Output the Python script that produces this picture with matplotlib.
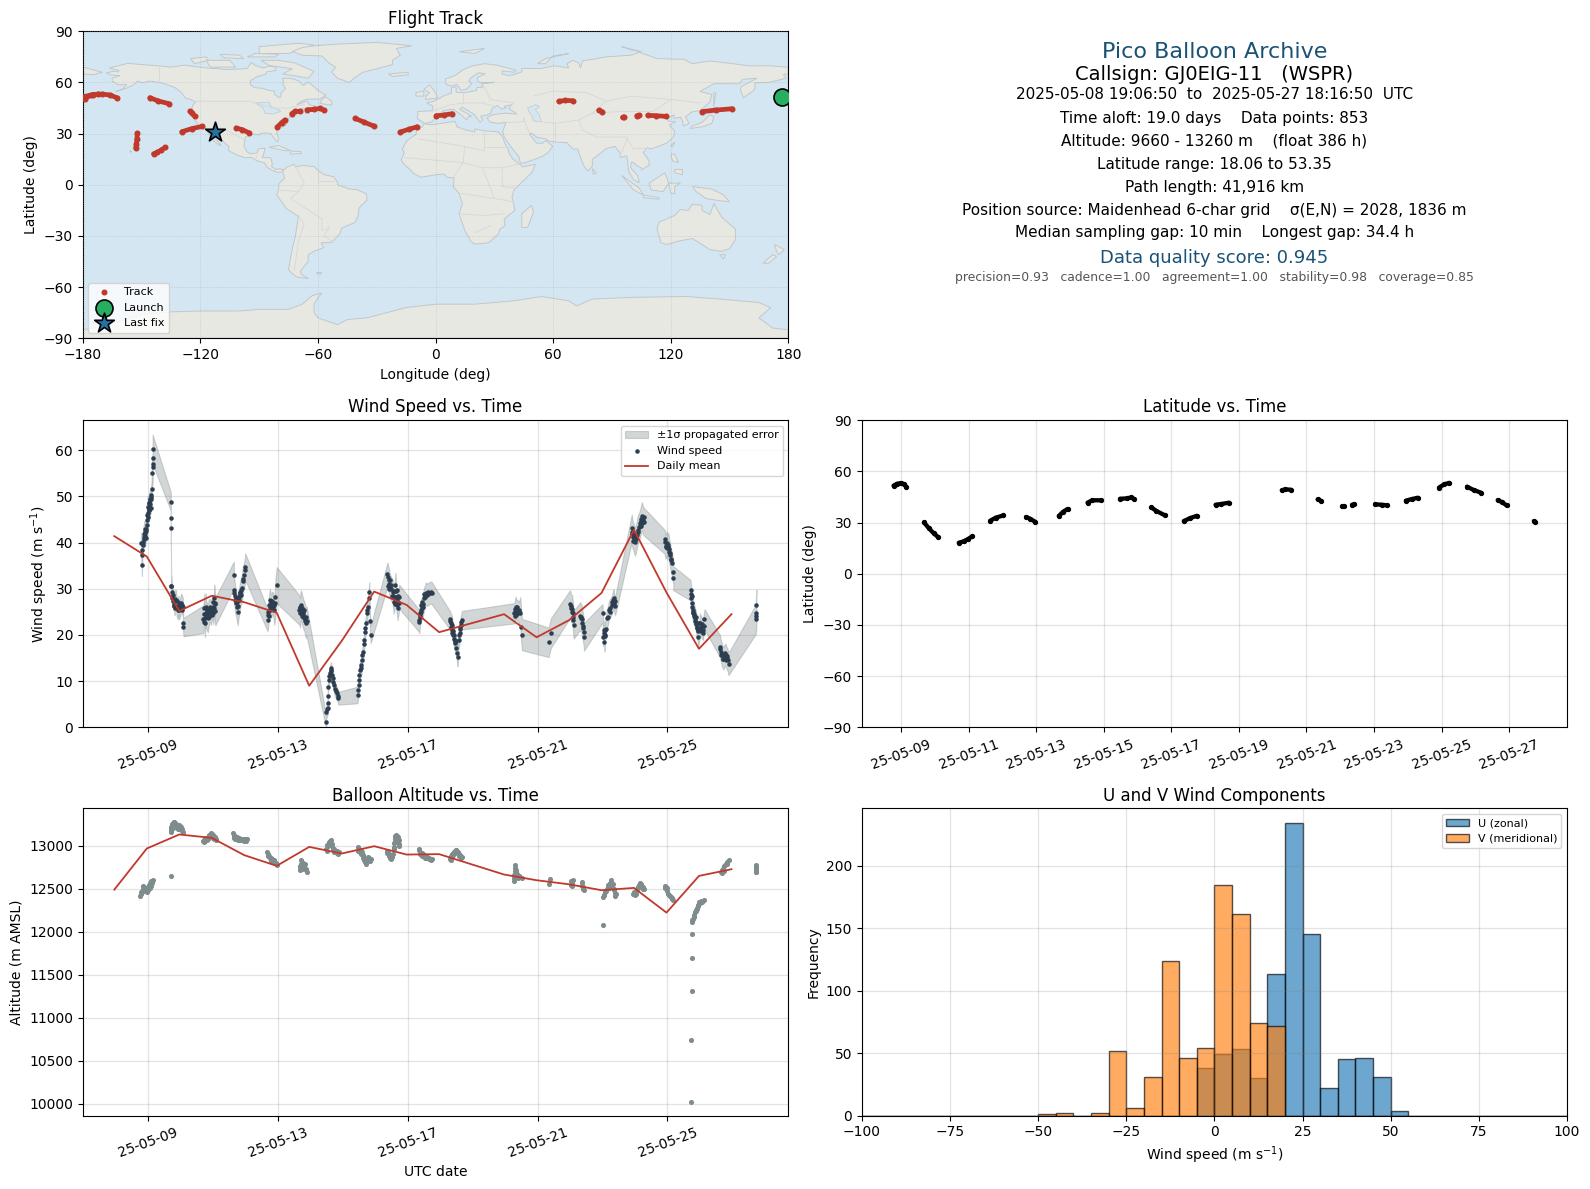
from datetime import datetime
import matplotlib
matplotlib.use("Agg")
import matplotlib.pyplot as plt
import matplotlib.dates as mdates
import numpy as np

nan = float("nan")

# ---- flight track: day of May 2025, latitude, longitude (nan = gap) ----
track_day = [8.78,8.88,9.01,9.08,9.16,nan, 9.68,9.83,9.97,10.10,nan, 10.71,10.85,10.99,11.10,nan,
             11.64,11.80,12.03,nan, 12.70,12.82,12.97,nan, 13.67,13.80,13.93,nan, 14.52,14.66,14.93,nan,
             15.48,15.68,15.82,15.90,nan, 16.41,16.56,16.80,nan, 17.37,17.54,17.75,nan, 18.31,18.47,18.71,nan,
             20.27,20.37,20.54,nan, 21.33,21.42,nan, 22.06,22.10,nan, 22.35,22.40,nan, 23.03,23.23,23.39,nan,
             23.94,24.12,24.29,nan, 24.92,25.07,25.22,nan, 25.75,25.95,26.16,nan, 26.66,26.80,26.92,nan, 27.73,27.76]
track_lat = [51.7,52.8,53.2,52.6,51.0,nan, 30.1,26.6,23.7,21.5,nan, 18.2,19.0,20.4,21.9,nan,
             31.1,32.9,34.2,nan, 33.3,32.3,30.5,nan, 33.9,36.4,38.0,nan, 41.7,43.1,43.1,nan,
             44.0,44.2,44.8,43.8,nan, 38.9,36.8,34.4,nan, 30.9,32.5,34.0,nan, 40.5,40.9,41.7,nan,
             48.9,49.5,49.3,nan, 43.6,42.9,nan, 39.5,39.7,nan, 40.5,40.7,nan, 40.7,40.5,40.1,nan,
             42.9,43.8,44.6,nan, 50.5,52.4,53.3,nan, 51.1,49.1,47.6,nan, 43.2,41.9,40.1,nan, 30.9,30.6]
track_lon = [-179.5,-175,-170,-166,-162.5,nan, -152.2,-152.4,-152.7,-153,nan, -143.9,-142,-140,-138,nan,
             -129.5,-124.5,-119.3,nan, -101.7,-98.6,-95.2,nan, -80.7,-78.6,-76.9,nan, -73.4,-71.6,-69,nan,
             -65.5,-62,-59,-57,nan, -41,-36.6,-31.4,nan, -18.1,-13.8,-9.4,nan, 0.3,4.3,8.5,nan,
             62.9,66.3,70,nan, 83.3,85,nan, 95.4,96.2,nan, 102.7,103.6,nan, 108.3,112.7,117.5,nan,
             136,142.9,151.5,nan, -179,-176,-172,nan, -145.8,-141.4,-136.1,nan, -125.3,-124.1,-122.9,nan, -113.5,-112.5]
launch_lon, launch_lat = 176.6, 51.7
last_lon, last_lat = -112.5, 30.9

# ---- wind speed samples: day of May, speed (m/s), sigma (m/s) ----
wind_day = [8.79,8.81,8.82,8.83,8.85,8.87,8.89,8.90,8.92,8.93,8.95,8.97,8.97,8.98,9.00,9.01,9.03,9.04,9.05,9.06,9.07,9.08,9.10,9.11,9.12,9.13,9.15,9.15,9.15,9.15,
            9.71,9.71,9.71,9.72,9.73,9.74,9.76,9.77,9.79,9.82,9.82,9.85,9.87,9.89,9.92,9.95,9.95,9.98,10.03,10.06,10.08,10.09,10.10,
            10.71,10.73,10.74,10.76,10.78,10.79,10.82,10.85,10.87,10.90,10.93,10.95,10.97,11.00,11.02,11.05,11.06,11.08,
            11.65,11.65,11.67,11.69,11.72,11.74,11.77,11.79,11.82,11.84,11.85,11.88,11.90,11.92,11.94,11.97,11.99,12.00,
            12.69,12.71,12.72,12.74,12.76,12.78,12.80,12.83,12.85,12.87,12.90,12.93,12.97,
            13.67,13.69,13.70,13.72,13.74,13.77,13.79,13.82,13.84,13.87,13.89,
            14.49,14.50,14.52,14.54,14.54,14.54,14.55,14.57,14.59,14.61,14.63,14.64,14.65,14.67,14.69,14.71,14.73,14.75,14.78,14.82,14.85,14.87,
            15.46,15.47,15.49,15.50,15.51,15.53,15.56,15.58,15.59,15.61,15.64,15.65,15.66,15.68,15.70,15.72,15.74,15.76,15.77,15.80,15.82,15.84,15.86,
            16.38,16.40,16.42,16.44,16.46,16.50,16.54,16.57,16.60,16.62,16.64,16.66,16.69,16.72,16.74,
            17.34,17.36,17.38,17.40,17.41,17.44,17.46,17.48,17.51,17.54,17.56,17.60,17.64,17.68,17.72,17.75,
            18.31,18.33,18.36,18.38,18.41,18.44,18.47,18.50,18.52,18.54,18.57,18.60,18.62,18.64,18.67,
            20.29,20.31,20.33,20.35,20.38,20.42,20.47,20.50,20.52,
            21.34,21.41,
            22.00,22.03,22.06,22.08,22.09,22.11,22.31,22.35,22.38,22.40,22.42,22.43,
            23.00,23.03,23.05,23.06,23.08,23.10,23.13,23.16,23.20,23.24,23.29,23.32,23.34,23.36,23.39,
            23.90,23.92,23.95,23.98,24.00,24.03,24.08,24.12,24.16,24.19,24.21,24.25,24.28,
            24.91,24.94,24.98,25.00,25.03,25.06,25.08,25.10,25.13,25.18,25.18,
            25.71,25.72,25.73,25.75,25.76,25.78,25.80,25.83,25.85,25.88,25.90,25.93,25.95,25.98,26.00,26.04,26.09,26.14,
            26.62,26.63,26.65,26.68,26.72,26.75,26.79,26.82,26.85,26.88,
            27.72,27.72,27.73,27.74]
wind_speed = [39.9,37.3,35.1,38.4,40.2,41.3,41.8,42.4,41.5,42.0,43.0,43.8,46.0,44.9,47.8,46.5,47.1,48.6,48.5,47.4,49.2,48.4,49.8,50.3,51.6,55.0,56.3,57.0,58.3,60.2,
              48.9,45.3,43.1,30.5,30.6,29.4,28.0,28.7,27.3,27.2,26.3,27.8,27.6,26.1,25.4,26.5,25.4,25.6,27.0,26.5,26.0,22.5,21.7,
              23.4,24.5,25.8,22.5,26.0,24.7,24.0,23.6,24.6,25.4,24.9,24.7,25.6,26.1,24.8,27.9,26.7,25.1,
              33.0,29.7,29.1,27.6,26.9,26.0,25.0,26.3,27.6,28.6,29.0,29.8,30.1,31.6,32.2,33.0,34.0,34.8,
              23.2,24.3,25.4,26.6,27.6,26.9,26.1,27.0,26.9,26.0,25.4,28.2,30.8,
              25.4,24.8,26.0,26.5,25.8,25.0,24.5,24.0,23.4,22.5,23.0,
              1.2,3.4,3.9,4.1,5.3,6.8,8.7,10.3,11.2,11.7,12.4,12.8,12.2,11.3,10.6,9.9,9.1,8.4,7.8,7.4,6.8,6.3,
              7.0,8.0,9.2,10.2,11.3,12.4,12.8,13.4,14.6,15.6,16.4,18.0,18.9,20.7,21.6,22.5,24.7,25.4,26.1,27.9,29.2,23.1,20.1,
              33.1,32.5,31.9,31.0,30.5,29.9,29.4,27.2,28.2,30.8,29.5,27.6,25.8,27.0,28.3,
              23.2,22.8,24.3,25.0,25.4,25.8,26.1,26.8,27.9,28.4,29.0,28.7,28.9,29.1,29.2,29.0,
              23.1,22.6,22.2,21.0,20.0,19.2,18.2,17.2,16.2,15.2,18.9,20.4,21.2,22.2,23.2,
              24.7,25.6,26.1,25.3,25.4,24.9,24.8,21.8,20.1,
              18.4,20.4,
              26.7,25.9,25.6,24.8,24.0,22.2,24.1,23.6,22.5,21.5,20.7,19.6,
              24.7,19.5,21.0,18.4,21.1,21.2,23.6,24.0,25.4,25.9,26.5,27.5,27.9,26.9,26.3,
              43.1,41.9,41.3,40.6,40.2,40.8,42.7,43.4,44.2,45.2,45.8,44.8,44.5,
              40.2,39.1,39.9,38.9,39.5,37.9,37.3,36.4,35.5,33.7,32.3,
              29.7,28.9,27.9,27.0,26.1,25.4,24.7,24.2,23.6,22.8,21.8,20.8,19.6,21.1,22.5,21.8,21.1,23.4,
              17.5,16.9,16.4,15.6,14.9,15.4,15.7,15.0,14.6,13.7,
              23.4,24.2,24.7,26.4]
wind_sigma = [2.3]*25 + [3.2]*5 + \
             [2.0]*23 + \
             [3.0]*9 + [2.5]*6 + [3.0,3.0,3.0] + \
             [2.9]*18 + \
             [2.4]*10 + [3.2,3.9,3.9] + \
             [3.2]*11 + \
             [1.4]*22 + \
             [1.8]*20 + [2.2,1.9,1.9] + \
             [2.6]*15 + \
             [2.4]*16 + \
             [2.0]*15 + \
             [2.2]*6 + [3.4]*3 + \
             [3.2,3.2] + \
             [3.0]*12 + \
             [2.0]*15 + \
             [3.0]*13 + \
             [2.6]*11 + \
             [2.2]*18 + \
             [2.4]*10 + \
             [3.2,3.2,4.0,3.4]
# further samples inside the dense clusters
wind_more_day = [8.86,8.88,8.91,8.94,8.96,9.02,9.04,9.06,9.09,9.09,
                 9.80,9.84,9.90,9.93,9.97,10.01,10.05,
                 10.72,10.75,10.77,10.80,10.83,10.86,10.88,10.92,10.96,10.98,11.01,11.03,11.06,
                 11.68,11.71,11.75,11.78,11.80,11.83,11.87,
                 12.70,12.73,12.75,12.77,12.79,12.81,12.84,12.88,12.91,
                 13.68,13.71,13.73,13.75,13.78,13.80,13.83,13.86,
                 16.40,16.43,16.47,16.50,16.53,16.56,16.58,16.61,16.63,16.67,16.68,16.71,
                 17.37,17.39,17.42,17.45,17.50,17.55,17.62,
                 18.32,18.34,18.37,18.40,18.43,18.46,18.49,18.58,18.61,18.65,
                 20.30,20.32,20.34,20.36,20.39,20.44,
                 22.02,22.07,22.10,22.33,22.36,22.39,23.04,23.07,23.09,23.22,23.30,23.33,23.37,
                 23.91,23.94,23.97,24.02,24.06,24.10,24.14,24.18,24.20,24.23,24.27,
                 24.93,24.96,25.02,25.05,25.09,25.12,
                 25.74,25.79,25.82,25.84,25.87,25.89,25.92,25.94,25.97,26.00,26.02,26.06,26.08,26.11,
                 26.66,26.70,26.74,26.77,26.81,26.84]
wind_more_speed = [39.5,40.8,43.0,41.0,42.5,45.5,47.0,49.5,47.6,49.5,
                   26.5,25.8,27.3,26.2,26.9,26.1,25.5,
                   22.8,23.6,24.5,25.9,25.1,25.5,23.9,26.0,25.5,24.3,27.2,25.8,27.0,
                   28.5,27.9,27.2,27.6,28.3,29.4,28.7,
                   25.0,24.1,26.3,25.5,27.4,27.3,26.2,26.5,27.0,
                   25.8,25.3,24.8,24.2,23.9,25.5,23.0,24.0,
                   30.6,30.0,32.0,30.9,28.5,28.5,29.6,26.8,28.2,29.7,26.5,28.4,
                   23.9,24.8,26.4,27.2,28.9,28.2,29.4,
                   23.4,21.8,20.5,20.9,20.0,18.7,18.8,19.9,21.7,22.8,
                   24.2,25.0,24.4,26.0,24.8,25.5,
                   26.2,25.0,23.3,24.0,23.5,21.9,20.4,19.8,20.0,25.0,27.2,26.8,27.4,
                   42.4,40.3,41.6,41.2,41.7,42.4,43.7,43.5,44.6,44.2,45.5,
                   40.8,39.3,39.0,38.6,37.8,36.2,
                   28.5,25.0,24.6,23.1,23.8,22.3,21.5,21.0,22.5,21.0,20.8,22.4,20.5,22.0,
                   15.6,14.8,15.1,16.0,14.5,15.5]

# ---- daily means: day of May, wind speed, altitude ----
mean_day = [8,9,10,11,12,13,14,15,16,17,18,20,21,22,23,24,25,26,27]
mean_wind = [41.4,37.0,25.2,28.5,27.1,24.8,9.0,18.7,29.4,26.5,20.6,24.5,19.5,23.2,29.1,42.8,29.2,17.0,24.5]
mean_alt = [12488,12965,13128,13089,12888,12764,12984,12907,12992,12895,12900,12663,12597,12550,12481,12508,12221,12647,12725]

# ---- altitude samples: day of May, metres ----
alt_day = [8.77,8.79,8.82,8.84,8.87,8.90,8.93,8.95,8.97,9.00,9.03,9.05,9.08,9.11,9.15,9.71,
           9.70,9.71,9.72,9.74,9.77,9.80,9.82,9.85,9.87,9.90,9.95,9.98,10.03,10.06,10.10,9.78,9.92,
           10.71,10.74,10.76,10.80,10.85,10.90,10.95,10.98,11.02,11.06,11.10,
           11.62,11.64,11.67,11.70,11.72,11.77,11.82,11.87,11.92,11.98,12.05,
           12.67,12.70,12.74,12.78,12.82,12.86,12.90,12.94,12.97,
           13.69,13.70,13.72,13.74,13.77,13.80,13.82,13.86,13.90,
           14.49,14.53,14.57,14.60,14.64,14.66,14.69,14.74,14.80,14.84,14.88,
           15.46,15.50,15.56,15.60,15.64,15.67,15.69,15.73,15.77,15.82,15.87,
           16.35,16.39,16.44,16.48,16.52,16.55,16.57,16.59,16.61,16.62,16.64,16.67,16.69,16.72,16.74,16.58,
           17.34,17.37,17.41,17.44,17.48,17.51,17.56,17.60,17.67,17.75,
           18.31,18.34,18.38,18.42,18.46,18.50,18.54,18.57,18.62,18.67,
           20.26,20.28,20.29,20.30,20.31,20.32,20.34,20.38,20.42,20.47,20.52,
           21.34,21.39,
           22.03,22.05,22.08,22.36,22.38,22.39,22.42,
           23.00,23.03,23.05,23.08,23.13,23.18,23.22,23.27,23.31,23.34,23.37,23.39,
           23.95,23.98,24.00,24.04,24.08,24.12,24.16,24.20,24.24,24.28,
           24.91,24.94,24.98,25.03,25.08,25.13,25.18,
           25.71,25.71,25.74,25.74,25.74,25.75,25.77,25.80,25.82,25.85,25.87,25.90,25.93,25.98,26.03,26.11,
           26.65,26.69,26.72,26.75,26.79,26.82,26.88,
           27.72,27.72,27.73,27.73,
           8.80,8.85,8.88,8.92,8.96,9.02,9.06,9.09,9.12,
           9.73,9.76,9.79,9.83,9.88,9.93,9.97,10.01,10.04,
           10.73,10.77,10.82,10.88,10.93,10.97,11.01,11.05,11.09,
           11.65,11.69,11.74,11.79,11.84,11.90,11.95,12.02,
           12.71,12.76,12.80,12.85,12.92,
           13.69,13.73,13.75,13.78,13.84,13.88,
           14.51,14.55,14.62,14.67,14.72,14.77,14.82,14.86,
           15.48,15.53,15.58,15.62,15.66,15.71,15.75,15.80,15.85,
           16.37,16.42,16.47,16.50,16.60,16.63,16.66,16.70,16.73,
           17.36,17.39,17.43,17.47,17.53,17.58,17.65,17.72,
           18.33,18.36,18.40,18.44,18.48,18.52,18.59,18.64,
           20.36,20.40,20.44,20.33,
           22.06,22.04,22.37,22.40,
           23.06,23.10,23.16,23.20,23.25,23.30,23.36,23.41,
           23.97,24.02,24.06,24.10,24.14,24.18,24.22,24.26,
           24.93,25.00,25.05,25.10,25.15,
           25.83,25.88,25.91,25.95,26.00,26.07,
           26.67,26.70,26.74,26.77,26.84,
           27.72,27.73,27.74]
alt_m = [12415,12442,12470,12500,12519,12505,12481,12470,12461,12490,12519,12540,12566,12585,12605,12651,
         13159,13190,13217,13245,13267,13275,13275,13260,13244,13240,13236,13225,13217,13190,13159,13200,13190,
         13050,13065,13081,13090,13100,13120,13140,13130,13120,13100,13081,
         13147,13125,13100,13085,13070,13075,13089,13080,13081,13075,13070,
         12926,12905,12880,12860,12841,12835,12829,12800,12771,
         12713,12750,12829,12790,12771,12740,12771,12730,12694,
         12965,13005,13043,13055,13062,13020,12965,12955,12938,12932,12926,
         12977,12965,12946,12920,12888,12850,12810,12840,12868,12860,12849,
         12938,12925,12907,12890,12868,12900,12984,13030,13081,13105,13120,13115,13100,13060,13023,12960,
         12953,12930,12907,12912,12900,12888,12880,12868,12860,12849,
         12849,12880,12907,12925,12940,12946,12925,12907,12885,12868,
         12589,12625,12655,12700,12771,12740,12713,12670,12643,12635,12628,
         12558,12616,
         12539,12570,12597,12577,12545,12519,12488,
         12081,12403,12430,12461,12500,12539,12570,12597,12550,12500,12450,12411,
         12442,12432,12422,12470,12519,12545,12570,12545,12520,12500,
         12531,12520,12508,12434,12415,12395,12372,
         10023,10744,11314,11698,11977,12112,12135,12151,12195,12229,12255,12279,12310,12345,12355,12364,
         12694,12715,12733,12760,12791,12810,12829,
         12694,12725,12750,12771,
         12460,12530,12470,12500,12490,12480,12510,12530,12560,
         13180,13225,13230,13240,13210,13205,13190,13190,13165,
         13040,13055,13065,13085,13105,13105,13090,13070,13060,
         13090,13070,13100,13060,13060,13060,13055,13055,
         12880,12850,12825,12810,12800,
         12760,12780,12730,12800,12790,12720,
         12940,12990,13010,12990,12930,12920,12910,12900,
         12940,12925,12900,12860,12830,12780,12820,12830,12825,
         12910,12880,12860,12840,13040,13070,13080,13050,13000,
         12965,12900,12880,12895,12860,12850,12840,12830,
         12830,12880,12890,12920,12950,12915,12880,12860,
         12630,12625,12650,12685,
         12530,12590,12530,12495,
         12420,12470,12520,12510,12560,12520,12480,12440,
         12460,12440,12490,12520,12530,12555,12510,12490,
         12505,12475,12425,12400,12380,
         12175,12240,12260,12300,12330,12340,
         12680,12725,12700,12775,12790,
         12710,12690,12735]

# ---- histogram counts per 5 m/s bin ----
hist_edges = [float(v) for v in range(-100, 105, 5)]
u_counts = [0]*11 + [0,0,0,0,0,0,0,0] + [38,49,53,30,113,234,145,22,45,46,31,4] + [0]*9
v_counts = [0]*10 + [1,2,0,2,52,6,31,124,46,54,185,161,74,72] + [0]*16

# ---- world outline, lon/lat ----
land_polys = [
 [(-168,65.6),(-164,66.6),(-162,66.1),(-161.5,67),(-166.5,68.4),(-163,69.5),(-157,71.2),(-150,70.5),(-141,69.7),(-135,69),(-128,70.2),(-124,69.5),(-115,68.3),(-110,68),(-108,67.5),(-102,67.8),(-98,68),(-96,68.3),(-94,71.8),(-92,70),(-88,68.5),(-85,69.5),(-81.5,69),(-81.5,67),(-86,66.3),(-87,64.7),(-91,63.5),(-94.5,61),(-94.5,58.8),(-92.5,57),(-88,56.5),(-85,55.3),(-82.3,55),(-82.2,52.9),(-80,51.3),(-79,51.5),(-78.8,54),(-76.5,56.5),(-78,58.8),(-77.5,60),(-78,62.4),(-73.7,62.4),(-70,61),(-67.5,58.3),(-65,60.3),(-62,57.5),(-60,55.3),(-56,52.5),(-59,50.3),(-66,50.2),(-69,48.5),(-71,46.8),(-65.5,49.2),(-64.5,47),(-61,46),(-65.5,43.6),(-67,45),(-70,43.7),(-70.5,41.8),(-74,40.7),(-75.5,38),(-76,35.5),(-78,34),(-81,32),(-81,30),(-80,26.8),(-80.8,25.2),(-82.7,27.7),(-84,30),(-86,30.4),(-89.5,30.2),(-89.5,29.2),(-93.5,29.7),(-97,28),(-97.5,25),(-97.7,22.5),(-96,19),(-94,18.2),(-91,18.8),(-90.5,21),(-87,21.5),(-87.7,18),(-88.5,16),(-84,15.8),(-83.3,12),(-83.7,10.8),(-81.5,8.9),(-79.5,9.5),(-77.5,8.6),(-78.5,7.5),(-80.5,7.3),(-83,8.3),(-85.7,10),(-87.5,13),(-91,14),(-94,16.1),(-97,15.8),(-101.5,17.5),(-105.5,20),(-105.5,22.5),(-108.5,25.5),(-111,28),(-113,31.2),(-114.8,31.7),(-114.7,30),(-112,26.5),(-109.5,23.2),(-110,23),(-112.2,24.8),(-115,28),(-116,30.5),(-117.3,33),(-120.6,34.6),(-122.5,37.5),(-124.3,40.3),(-124.5,43),(-124,46.5),(-122.5,48.5),(-125,50),(-127.7,51),(-130,54.5),(-133,57),(-137,58.7),(-140,59.8),(-146,60.8),(-149.5,59.8),(-152,60.8),(-154,58.7),(-158,56.5),(-163,54.8),(-160,56),(-157.5,58.7),(-162,58.7),(-165,60.8),(-165,62.5),(-161,64),(-166,64.5)],
 [(-80,73),(-72,71.5),(-62,66.5),(-65,62.5),(-72,64),(-78,65),(-73,68),(-85,70),(-89,73)],
 [(-117,73),(-105,73),(-102,69),(-115,69)],
 [(-90,77),(-75,77),(-62,82),(-70,83),(-90,81)],
 [(-125,74),(-117,75),(-116,73),(-123,71)],
 [(-96,75),(-82,75),(-80,76.5),(-92,77)],
 [(-110,76.5),(-100,76),(-98,74),(-108,74.5)],
 [(-59,47.7),(-53,46.7),(-53,49),(-56,51.5),(-58,50)],
 [(-85,22),(-80,23),(-74,20),(-77,20)],
 [(-74,19.8),(-69,19.5),(-68.5,18.4),(-74,18)],
 [(-73,78.2),(-68,76),(-58,75.5),(-54,71),(-51,69),(-53,66),(-50,62.5),(-44,60),(-41,63),(-37,66),(-30,68),(-22,70.5),(-22,73),(-18,76),(-20,80),(-12,81.5),(-30,83.5),(-50,82.5),(-62,81.5),(-68,80.5)],
 [(-77.5,8.6),(-75.5,10.7),(-72,12),(-71.5,10.5),(-68,11.3),(-62,10.7),(-60,8.4),(-57,6),(-52,4.7),(-50,1.5),(-50,0),(-44,-2.5),(-40,-2.8),(-35.2,-5.5),(-35,-9),(-39,-13.5),(-39.5,-18),(-41,-22),(-48,-25.5),(-48.7,-28.5),(-53,-33.7),(-58.4,-34),(-57,-36.8),(-62,-39),(-65,-41),(-65,-45),(-69,-50.5),(-68.5,-52.5),(-65,-55),(-71,-54),(-75,-50),(-74,-43),(-73,-37),(-71.5,-30),(-70,-18.5),(-76,-14),(-81,-6),(-80,-2),(-80,0.5),(-77,4),(-78,7.5)],
 [(-5.9,35.8),(-2,35.2),(10,37.2),(11,34),(15,32.3),(20,31),(20,32.7),(25,31.7),(32,31),(34.3,28),(35.5,24),(37,21),(37.5,18.5),(39.5,15),(43.2,11.8),(44.5,10.5),(51,12),(49,7),(44,1.5),(40,-3),(39,-7),(40.5,-15),(35,-20),(35.5,-24),(32.8,-26),(32,-29),(27,-34),(20,-34.8),(18,-33),(15,-27),(12,-17),(13.7,-11),(12,-5),(9,-1),(9.5,4),(6,4.3),(4.5,6.3),(1,6),(-4.5,5),(-7.5,4.4),(-11,6.5),(-13.5,9.5),(-16.5,12.5),(-17.5,14.7),(-16,19),(-17,21),(-14.5,26),(-10,29.5),(-9.5,32.5),(-6.7,34)],
 [(-9.3,38.7),(-9,43),(-1.8,43.4),(-1.2,46),(-4.5,48.2),(-1.5,48.7),(1.6,50.5),(4,52),(8,53.7),(8.2,57),(10.5,57.5),(10.5,54.2),(14,54),(18.5,54.7),(21,55.5),(21,57),(24,57.2),(23.5,59.2),(30,60),(23,59.9),(21.3,61),(21.5,63),(25.3,65),(22,65.7),(17.8,62.5),(17,60.7),(18.5,59.5),(16,56.2),(13,55.4),(11,58.9),(8.3,58),(5.5,58.8),(5,62),(10,64),(14,67.5),(19,69.8),(25,71),(31,70.2),(41,67.2),(40.5,66),(34,66.8),(34,65),(37,64),(40,64.6),(44,66.2),(44,68.2),(54,68.2),(60.5,69.8),(68,68.5),(67,71),(70,73),(73,71.5),(74,68.5),(75,72.8),(80.5,73.6),(87,75),(100,76),(104,77.7),(113,74),(127,73.5),(131,71),(140,72.6),(152,71),(160,69.7),(170,69.8),(180,69),(180,65.2),(177.5,64.7),(179,62.5),(170,60),(163,59.8),(163,56.5),(162,55),(157,51),(155.5,56),(156,57.5),(164,62.5),(156.8,61.8),(155,59.3),(142,59.3),(135,54.7),(141,53),(140,48.5),(135,43.5),(131,42.8),(127.5,39.8),(129.4,36),(126.5,34.4),(126,37.7),(125,39.6),(121.5,39),(121.8,40.9),(118,39),(119,37.2),(122.5,37),(119.2,35),(122,31.5),(121.5,28.2),(118,24.5),(113.5,22.4),(110,21),(108,21.7),(106,19),(109,14),(109,11.5),(105,8.6),(105,10),(103,11),(101,13),(100,13.4),(99.5,10),(103,5.5),(104,1.3),(101,3),(98.5,8),(98,14),(97.5,17),(94.3,16),(94,19),(91.5,22.5),(88.5,21.7),(86.8,21),(82,16.5),(80,15),(80,10.8),(77.5,8),(75.5,11.5),(73,19),(72.7,21),(70.5,20.8),(69,22.3),(67,24.8),(61.5,25),(57.3,25.8),(56.5,27),(52,27.7),(48.8,30.3),(48,29.5),(50,26.7),(51.5,24.5),(54.5,24.3),(56.3,26),(59.8,22.5),(57.5,19),(55,17),(52,15.5),(45,12.8),(43.3,12.7),(42.5,16.5),(39,21.5),(35,28),(34.3,31.3),(36,36.7),(32,36),(28,36.7),(26.2,39.2),(29,41),(35,42),(41.5,41.5),(37.5,44.7),(39,47),(35,46),(36,45),(33.5,44.5),(31.5,46.5),(29,45),(28,42),(26,40.8),(23,40.3),(24,38),(22.8,36.5),(19.5,41.5),(13.7,45.5),(12.3,44.3),(16,41.8),(18.4,40),(16.5,39.8),(16,38),(12,42),(8.8,44.4),(4,43.5),(3,42),(0,39.5),(-2,36.8),(-5.5,36)],
 [(-180,69),(-170,66),(-175,64.5),(-180,65)],
 [(-5,50),(1,51),(0,54),(-3,58.5),(-6,56),(-3,54),(-5,52)],
 [(-10,52),(-6,52),(-6,55),(-10,54)],
 [(-24,65),(-14,66),(-14,64.5),(-22,63.5)],
 [(12,78),(25,80),(20,77)],
 [(52,71),(56,74),(68,77),(60,75.5),(56,71)],
 [(100,79),(105,78),(95,81)],
 [(130,33),(136,34),(141,36),(142,40),(140,41),(136,36.5),(131,34.5)],
 [(140,42),(145,43.5),(142,45.5)],
 [(142,46),(143,54),(142,54)],
 [(120,23),(122,25),(121,22)],
 [(120,18),(122,18),(124,13),(121,14)],
 [(122,9),(126,9),(126,6),(122,7)],
 [(95,5.5),(104,-2),(106,-6),(101,-3)],
 [(106,-6),(114,-7.5),(114,-8.5),(106,-7.5)],
 [(109,1),(117,7),(119,1),(116,-4),(110,-3)],
 [(119,1),(125,1),(122,-1),(122,-5),(120,-5)],
 [(131,-1),(141,-2.5),(147,-6),(150,-10),(143,-9),(138,-8),(133,-4)],
 [(80,9.5),(82,7),(80.5,6)],
 [(49,-12),(50,-16),(47,-25),(44,-25),(44,-17)],
 [(114,-22),(122,-18),(125,-14.5),(129,-15),(131,-11.5),(136,-12),(136,-15),(140,-17.5),(142,-11),(146,-19),(153,-26),(153,-32),(150,-37.5),(146,-39),(140,-38),(136,-35),(131,-31.5),(124,-33),(118,-35),(115,-34),(113,-26)],
 [(145,-41),(148,-41),(147,-43.5)],
 [(173,-35),(178,-38),(175,-41),(174,-39)],
 [(172,-41),(174,-42),(170,-46),(167,-46)],
 [(-61,-51.5),(-58,-51.5),(-59,-52.5)],
 [(-156,20),(-155,19.5),(-155.7,19)],
 [(-180,-85),(-170,-83),(-158,-79),(-150,-76),(-135,-74.5),(-120,-74),(-100,-74),(-90,-73),(-75,-73),(-68,-70),(-63,-65),(-58,-63.5),(-60,-66),(-62,-70),(-62,-75),(-60,-78),(-50,-82),(-45,-79),(-35,-78),(-25,-75),(-15,-72),(0,-70),(20,-70),(40,-68),(54,-65.5),(68,-68),(72,-71),(80,-67),(100,-66),(128,-65.5),(145,-67),(165,-69),(171,-72),(165,-78),(172,-84),(180,-85),(180,-90),(-180,-90)],
]
water_polys = [
 [(47,45),(51,47),(53,46),(51,44),(53,41),(54,37),(50,37.4),(49,41),(47.5,43)],
 [(-92,48),(-85,48.5),(-84,46),(-80,44),(-79,43),(-83,41.5),(-87,42),(-88,45)],
]
border_lines = [
 [(-123,49),(-95,49),(-83,45),(-75,45),(-67,47)], [(-141,69.7),(-141,60)],
 [(-117,32.5),(-106,31.7),(-97,26)], [(-92,14.5),(-91,17.5)], [(-72,12),(-67,1),(-70,-4),(-74,-8),(-70,-11),(-58,-20),(-58,-27),(-54,-25),(-57,-30),(-53,-33)],
 [(-70,-18),(-67,-23),(-70,-33),(-72,-50)], [(-60,8),(-60,2),(-52,2)], [(-80,-3),(-70,-4)],
 [(-9,27),(12,23),(25,20),(25,32)], [(25,22),(37,22)], [(-16,16),(14,13),(24,10),(34,10),(42,12)], [(13,-5),(30,-8),(40,-10)],
 [(12,-17),(25,-18),(35,-17)], [(20,-28),(28,-24)], [(9,4),(14,13),(15,23)], [(24,10),(30,-8)], [(34,10),(34,-1),(41,-2)],
 [(-2,43),(8,47),(14,48),(24,48),(30,46)], [(14,54),(14,48)], [(24,59),(28,50),(40,48),(37,45)], [(50,52),(60,55),(77,54),(87,49)],
 [(87,49),(100,52),(120,50),(135,48)], [(87,49),(80,42),(73,38),(61,36),(53,37)], [(80,42),(95,43),(111,43),(120,50)],
 [(73,38),(75,32),(82,28),(97,28),(101,21),(108,21.5)], [(61,36),(61,25)], [(45,39),(48,30)], [(36,36.5),(45,37),(45,39)], [(98,28),(94,16)],
]

# ---- text panel ----
info_title = "Pico Balloon Archive"
info_callsign = "Callsign: GJ0EIG-11   (WSPR)"
info_lines = ["2025-05-08 19:06:50  to  2025-05-27 18:16:50  UTC",
              "Time aloft: 19.0 days    Data points: 853",
              "Altitude: 9660 - 13260 m    (float 386 h)",
              "Latitude range: 18.06 to 53.35",
              "Path length: 41,916 km",
              "Position source: Maidenhead 6-char grid    \u03c3(E,N) = 2028, 1836 m",
              "Median sampling gap: 10 min    Longest gap: 34.4 h"]
info_score = "Data quality score: 0.945"
info_sub = "precision=0.93   cadence=1.00   agreement=1.00   stability=0.98   coverage=0.85"

# ---- drawing ----
W, H = 1590, 1189
fig = plt.figure(figsize=(W/100, H/100), dpi=100)

def axes_px(x0, y0, x1, y1):
    return fig.add_axes([x0/W, 1-y1/H, (x1-x0)/W, (y1-y0)/H])

LX0, LX1, RX0, RX1 = 82.8, 788.3, 861.8, 1567
ax_map = axes_px(LX0, 31.3, LX1, 338.3)
ax_wind = axes_px(LX0, 420.3, LX1, 727.3)
ax_lat = axes_px(RX0, 420.3, RX1, 727.3)
ax_alt = axes_px(LX0, 808.3, LX1, 1115.6)
ax_hist = axes_px(RX0, 808.3, RX1, 1115.6)

RED = "#c0392b"
DARK = "#2c3e50"
GRAY = "#7f8c8d"
NAVY = "#1a5276"
GRID = dict(color="gray", alpha=0.22, lw=0.9)

base = mdates.date2num(datetime(2025, 5, 1))
def to_num(days):
    return base + np.asarray(days, dtype=float) - 1

# map
ax_map.set_facecolor("#d4e6f1")
for poly in land_polys:
    ax_map.fill(*zip(*poly), facecolor="#e8e8e3", edgecolor="#c0c8cc", lw=0.7, zorder=1)
for poly in water_polys:
    ax_map.fill(*zip(*poly), facecolor="#d4e6f1", edgecolor="#c0c8cc", lw=0.5, zorder=1.1)
for line in border_lines:
    ax_map.plot(*zip(*line), color="#d6d8d6", lw=0.6, zorder=1.2)
ax_map.grid(True, color="#9aa5ab", ls=":", lw=0.6, alpha=0.45, zorder=1.5)
ax_map.set_axisbelow(False)
ax_map.plot(track_lon, track_lat, color=RED, lw=3.4, solid_capstyle="round", zorder=3)
ax_map.scatter(track_lon, track_lat, s=11, color=RED, zorder=3, label="Track")
ax_map.scatter([launch_lon], [launch_lat], s=150, color="#27ae60", edgecolor="k", lw=1.2, zorder=5, label="Launch")
ax_map.scatter([last_lon], [last_lat], s=220, marker="*", color="#2471a3", edgecolor="k", lw=1.2, zorder=5, label="Last fix")
ax_map.set_xlim(-180, 180)
ax_map.set_ylim(-90, 90)
ax_map.set_xticks(range(-180, 181, 60))
ax_map.set_yticks(range(-90, 91, 30))
ax_map.set_xlabel("Longitude (deg)", labelpad=4.5)
ax_map.set_ylabel("Latitude (deg)")
ax_map.set_title("Flight Track", fontsize=12, pad=5)
ax_map.legend(loc="lower left", fontsize=8)

# info text
cx = (RX0 + RX1) / 2 / W
def info(y, s, **kw):
    fig.text(cx, 1 - y/H, s, ha="center", va="center", **kw)
info(51.7, info_title, fontsize=16, color=NAVY)
info(74, info_callsign, fontsize=14, color="k")
for y, s in zip([94.8, 118.6, 141, 164.5, 187.6, 210, 233], info_lines):
    info(y, s, fontsize=11, color="k")
info(257.8, info_score, fontsize=13, color=NAVY)
info(277.3, info_sub, fontsize=8.93, color="#555555")

date_fmt = mdates.DateFormatter("%y-%m-%d")

# wind
wd = to_num(wind_day)
ws = np.asarray(wind_speed)
sg = np.asarray(wind_sigma)
ax_wind.fill_between(wd, ws - sg, ws + sg, color=GRAY, alpha=0.35, lw=0.8, label="\u00b11\u03c3 propagated error")
ax_wind.scatter(np.concatenate([wd, to_num(wind_more_day)]), np.concatenate([ws, wind_more_speed]),
                s=5, color=DARK, zorder=3, label="Wind speed")
ax_wind.plot(to_num(mean_day) - 0.03, mean_wind, color=RED, lw=1.3, zorder=4, label="Daily mean")
ax_wind.set_xlim(to_num(7.0), to_num(28.72))
ax_wind.set_ylim(0, 66.5)
ax_wind.set_ylabel("Wind speed (m s$^{-1}$)")
ax_wind.set_title("Wind Speed vs. Time", fontsize=12)
ax_wind.legend(loc="upper right", fontsize=8)
ax_wind.xaxis.set_major_locator(mdates.DayLocator(bymonthday=[9, 13, 17, 21, 25]))

# latitude
ax_lat.plot(to_num(track_day), track_lat, color="k", lw=3.1, solid_capstyle="round", zorder=3)
ax_lat.scatter(to_num(track_day), track_lat, s=8, color="k", zorder=3)
ax_lat.set_xlim(to_num(7.84), to_num(28.71))
ax_lat.set_ylim(-90, 90)
ax_lat.set_yticks(range(-90, 91, 30))
ax_lat.set_ylabel("Latitude (deg)")
ax_lat.set_title("Latitude vs. Time", fontsize=12)
ax_lat.xaxis.set_major_locator(mdates.DayLocator(bymonthday=[9, 11, 13, 15, 17, 19, 21, 23, 25, 27]))

# altitude
ax_alt.scatter(to_num(alt_day), alt_m, s=7, color=GRAY, zorder=3)
ax_alt.plot(to_num(mean_day) - 0.03, mean_alt, color=RED, lw=1.3, zorder=4)
ax_alt.set_xlim(to_num(7.0), to_num(28.72))
ax_alt.set_ylim(9865, 13432)
ax_alt.set_ylabel("Altitude (m AMSL)")
ax_alt.set_xlabel("UTC date")
ax_alt.set_title("Balloon Altitude vs. Time", fontsize=12, pad=5)
ax_alt.xaxis.set_major_locator(mdates.DayLocator(bymonthday=[9, 13, 17, 21, 25]))

for ax in (ax_wind, ax_lat, ax_alt):
    ax.xaxis.set_major_formatter(date_fmt)
    ax.tick_params(axis="x", rotation=20)
    ax.grid(True, **GRID)

# histogram
edges = np.asarray(hist_edges)
lefts = edges[:-1]
ax_hist.hist(lefts, bins=edges, weights=u_counts, color="#1f77b4", alpha=0.65, edgecolor="k", lw=1.0, label="U (zonal)")
ax_hist.hist(lefts, bins=edges, weights=v_counts, color="#ff7f0e", alpha=0.65, edgecolor="k", lw=1.0, label="V (meridional)")
ax_hist.set_xlim(-100, 100)
ax_hist.set_ylim(0, 246)
ax_hist.set_xlabel("Wind speed (m s$^{-1}$)")
ax_hist.set_ylabel("Frequency")
ax_hist.set_title("U and V Wind Components", fontsize=12, pad=5)
ax_hist.legend(loc="upper right", fontsize=8)
ax_hist.grid(True, **GRID)

fig.savefig("out.png", dpi=100)
